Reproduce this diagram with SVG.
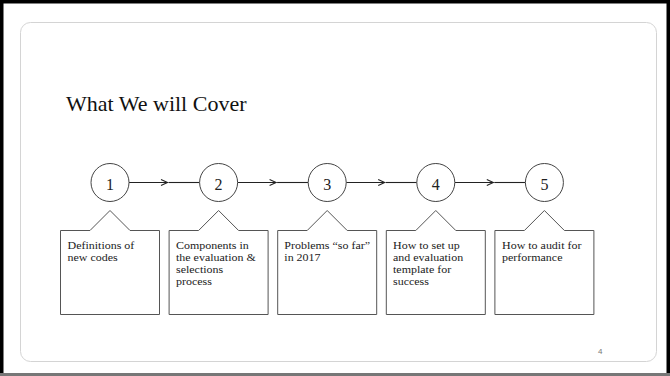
<svg xmlns="http://www.w3.org/2000/svg" width="670" height="376" viewBox="0 0 670 376">
<style>
.frame{fill:#fff;stroke:#d4d4d4;stroke-width:1}
.title{font-family:"Liberation Serif",serif;font-size:22px;fill:#111}
.num{font-family:"Liberation Serif",serif;font-size:16px;fill:#222;text-anchor:middle}
.lbl{font-family:"Liberation Serif",serif;font-size:10.8px;fill:#222}
.circ{fill:#fff;stroke:#444;stroke-width:1}
.box{fill:#fff;stroke:#555;stroke-width:1}
.conn{fill:none;stroke:#222;stroke-width:1.1}
.pg{font-family:"Liberation Sans",sans-serif;font-size:8px;fill:#777}
</style>
<defs>
<marker id="chev" markerUnits="userSpaceOnUse" markerWidth="10" markerHeight="10" refX="7.5" refY="4" orient="auto">
<path d="M1,1 L7.5,4 L1,7" fill="none" stroke="#222" stroke-width="1.1"/>
</marker>
</defs>
<rect x="0" y="0" width="670" height="376" fill="#000"/>
<rect x="3.5" y="3.5" width="663" height="370" fill="#fff"/>
<rect x="0" y="373" width="670" height="3" fill="#777"/>
<rect class="frame" x="20.5" y="22.5" width="636" height="339" rx="10"/>
<text class="title" x="66" y="111">What We will Cover</text>

<g id="connectors">
<path class="conn" d="M129,182.5 H167.5" marker-end="url(#chev)"/>
<path class="conn" d="M168.5,182.5 H199.6"/>
<path class="conn" d="M237.6,182.5 H276.1" marker-end="url(#chev)"/>
<path class="conn" d="M277.1,182.5 H308.2"/>
<path class="conn" d="M346.2,182.5 H384.7" marker-end="url(#chev)"/>
<path class="conn" d="M385.7,182.5 H416.8"/>
<path class="conn" d="M454.8,182.5 H493.3" marker-end="url(#chev)"/>
<path class="conn" d="M494.3,182.5 H525.4"/>
</g>

<g id="node1">
<circle class="circ" cx="110" cy="182.5" r="19"/>
<text class="num" x="110" y="190">1</text>
<path class="box" d="M60.5,230.5 H90 L110,210.5 L130,230.5 H159.5 V314.5 H60.5 Z"/>
<g transform="translate(67.5,0) scale(1.11,1)">
<text class="lbl" x="0" y="249">Definitions of</text>
<text class="lbl" x="0" y="261">new codes</text>
</g>
</g>

<g id="node2">
<circle class="circ" cx="218.6" cy="182.5" r="19"/>
<text class="num" x="218.6" y="190">2</text>
<path class="box" d="M169.1,230.5 H198.6 L218.6,210.5 L238.6,230.5 H268.1 V314.5 H169.1 Z"/>
<g transform="translate(176,0) scale(1.11,1)">
<text class="lbl" x="0" y="249">Components in</text>
<text class="lbl" x="0" y="261">the evaluation &amp;</text>
<text class="lbl" x="0" y="273">selections</text>
<text class="lbl" x="0" y="285">process</text>
</g>
</g>

<g id="node3">
<circle class="circ" cx="327.2" cy="182.5" r="19"/>
<text class="num" x="327.2" y="190">3</text>
<path class="box" d="M277.7,230.5 H307.2 L327.2,210.5 L347.2,230.5 H376.7 V314.5 H277.7 Z"/>
<g transform="translate(284.3,0) scale(1.11,1)">
<text class="lbl" x="0" y="249">Problems “so far”</text>
<text class="lbl" x="0" y="261">in 2017</text>
</g>
</g>

<g id="node4">
<circle class="circ" cx="435.8" cy="182.5" r="19"/>
<text class="num" x="435.8" y="190">4</text>
<path class="box" d="M386.3,230.5 H415.8 L435.8,210.5 L455.8,230.5 H485.3 V314.5 H386.3 Z"/>
<g transform="translate(393,0) scale(1.11,1)">
<text class="lbl" x="0" y="249">How to set up</text>
<text class="lbl" x="0" y="261">and evaluation</text>
<text class="lbl" x="0" y="273">template for</text>
<text class="lbl" x="0" y="285">success</text>
</g>
</g>

<g id="node5">
<circle class="circ" cx="544.4" cy="182.5" r="19"/>
<text class="num" x="544.4" y="190">5</text>
<path class="box" d="M494.9,230.5 H524.4 L544.4,210.5 L564.4,230.5 H593.9 V314.5 H494.9 Z"/>
<g transform="translate(502,0) scale(1.11,1)">
<text class="lbl" x="0" y="249">How to audit for</text>
<text class="lbl" x="0" y="261">performance</text>
</g>
</g>

<text class="pg" x="598" y="354">4</text>
</svg>
